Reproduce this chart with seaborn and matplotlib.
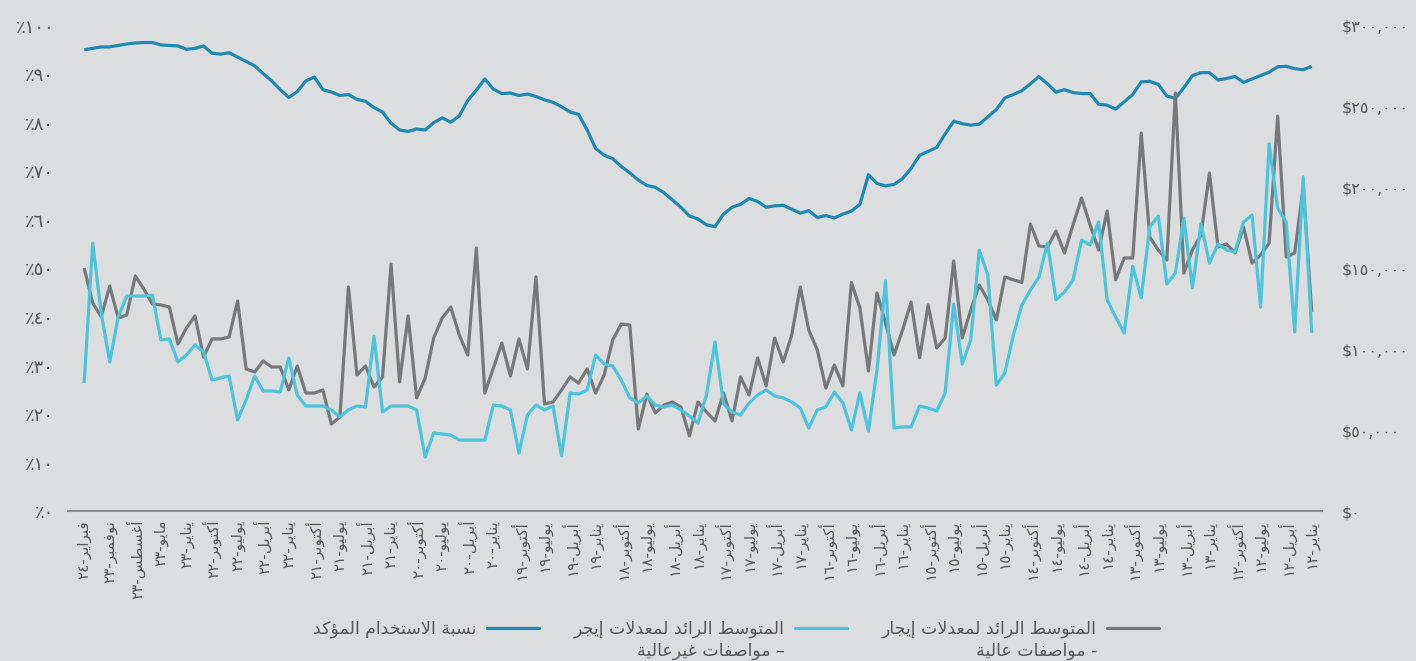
import matplotlib
matplotlib.use("Agg")
import matplotlib.pyplot as plt
import matplotlib.transforms as mtransforms
from matplotlib.lines import Line2D
from matplotlib.ticker import FuncFormatter, MultipleLocator
import seaborn as sns
import pandas as pd
import numpy as np

# Monthly series, newest (Feb-24) on the left to oldest (Jan-12) on the right
occupancy_pct = [
    95.0, 95.3, 95.6, 95.6, 95.9, 96.2, 96.4, 96.5, 96.5, 96.0,
    95.9, 95.8, 95.1, 95.3, 95.8, 94.3, 94.1, 94.4, 93.5, 92.6,
    91.7, 90.1, 88.6, 86.8, 85.2, 86.4, 88.6, 89.4, 86.8, 86.3,
    85.6, 85.8, 84.8, 84.4, 83.1, 82.2, 79.9, 78.5, 78.2, 78.7,
    78.5, 80.0, 81.0, 80.1, 81.4, 84.6, 86.7, 89.0, 86.9, 86.0,
    86.1, 85.6, 85.9, 85.4, 84.7, 84.2, 83.3, 82.2, 81.7, 78.5,
    74.7, 73.3, 72.6, 71.0, 69.7, 68.2, 67.1, 66.7, 65.6, 64.1,
    62.6, 60.8, 60.2, 59.0, 58.6, 61.2, 62.6, 63.2, 64.4, 63.8,
    62.6, 62.9, 63.0, 62.2, 61.4, 61.9, 60.5, 60.9, 60.4, 61.2,
    61.8, 63.2, 69.3, 67.5, 67.0, 67.3, 68.5, 70.6, 73.3, 74.1,
    74.9, 77.7, 80.3, 79.8, 79.5, 79.7, 81.2, 82.7, 85.1, 85.8,
    86.6, 88.0, 89.5, 88.0, 86.3, 86.8, 86.2, 86.0, 86.0, 83.8,
    83.6, 82.8, 84.3, 85.8, 88.4, 88.5, 87.9, 85.5, 85.0, 87.2,
    89.7, 90.3, 90.3, 88.8, 89.1, 89.5, 88.3, 89.0, 89.7, 90.4,
    91.5, 91.6, 91.1, 90.9, 91.6,
]

# asking rent, high spec, in $ thousands
rent_high_k = [
    150.3, 128.7, 120.1, 139.2, 119.4, 121.3, 145.4, 137.3, 128.1, 127.5,
    126.2, 103.4, 113.3, 120.7, 95.4, 106.5, 106.5, 107.7, 129.9, 88.0,
    86.1, 92.9, 89.2, 89.2, 75.0, 89.8, 73.1, 73.1, 75.0, 54.0,
    58.3, 138.6, 84.3, 89.8, 76.9, 83.0, 152.8, 79.9, 120.7, 70.1,
    82.4, 107.1, 119.4, 126.2, 108.9, 96.6, 162.7, 73.1, 88.6, 104.0,
    83.6, 106.5, 88.0, 144.8, 66.4, 67.6, 75.0, 83.0, 79.3, 88.0,
    73.1, 84.3, 105.9, 115.7, 115.1, 50.9, 72.5, 60.8, 65.7, 67.6,
    64.5, 46.6, 67.6, 61.4, 55.9, 73.1, 55.9, 83.0, 71.9, 94.8,
    77.5, 107.1, 92.3, 108.9, 138.6, 112.0, 99.7, 76.2, 90.4, 77.5,
    141.4, 125.6, 86.7, 134.9, 116.4, 96.6, 112.0, 129.3, 94.8, 127.5,
    100.9, 107.1, 154.6, 107.1, 124.4, 139.8, 130.6, 118.2, 144.8, 143.0,
    141.4, 177.5, 163.9, 163.3, 173.1, 159.6, 176.9, 193.5, 176.9, 161.4,
    185.5, 143.0, 156.5, 156.5, 233.6, 169.4, 161.4, 155.2, 258.3, 147.2,
    161.4, 170.7, 208.9, 163.3, 165.1, 159.6, 175.6, 153.4, 158.3, 165.7,
    244.1, 157.1, 159.6, 200.3, 123.1,
]

# asking rent, non high spec, in $ thousands
rent_std_k = [
    79.3, 165.7, 122.5, 92.3, 120.1, 133.0, 133.0, 133.0, 133.6, 105.9,
    106.5, 92.3, 96.6, 102.8, 98.5, 81.2, 82.4, 83.6, 56.5, 68.8,
    83.6, 74.4, 74.4, 73.8, 94.8, 71.9, 65.1, 65.1, 65.1, 62.7,
    58.3, 62.7, 65.1, 64.5, 108.3, 61.4, 65.1, 65.1, 65.1, 62.7,
    33.6, 48.5, 47.8, 47.2, 44.1, 44.1, 44.1, 44.1, 65.7, 65.1,
    62.7, 36.1, 59.6, 65.7, 62.7, 65.1, 34.3, 73.1, 72.5, 75.0,
    96.6, 91.0, 89.8, 81.2, 70.1, 67.0, 71.3, 65.7, 64.5, 65.7,
    62.7, 59.0, 54.6, 71.9, 104.6, 66.4, 61.4, 59.6, 67.0, 71.9,
    75.0, 71.3, 70.1, 67.6, 63.9, 51.5, 62.7, 64.5, 73.8, 67.0,
    50.3, 73.1, 49.7, 87.3, 142.3, 51.5, 52.2, 52.2, 65.1, 63.9,
    62.0, 73.1, 128.1, 91.0, 105.9, 161.4, 146.0, 78.0, 85.5, 109.0,
    127.5, 136.7, 144.8, 165.7, 130.6, 135.5, 142.9, 167.6, 164.5, 178.7,
    130.6, 120.1, 110.2, 151.5, 131.8, 175.6, 182.4, 140.4, 147.2, 181.2,
    138.0, 177.5, 153.4, 165.1, 161.4, 160.2, 178.7, 183.0, 126.2, 226.9,
    187.3, 178.7, 110.8, 206.5, 110.2,
]

recent_labels = [("فبراير", 24), ("نوفمبر", 23), ("أغسطس", 23), ("مايو", 23), ("يناير", 23)]
quarter_months = ["أكتوبر", "يوليو", "أبريل", "يناير"]
quarter_years = list(range(22, 11, -1))

legend_labels = [
    "نسبة الاستخدام المؤكد",
    "المتوسط الرائد لمعدلات إيجر\n– مواصفات غيرعالية",
    "المتوسط الرائد لمعدلات إيجار\n- مواصفات عالية",
]

BG = "#DCDDDF"
TEXT = "#55575A"
BLUE = "#1F88B2"
CYAN = "#4CC4DC"
GRAY = "#76787B"

# --- minimal Arabic shaping (matplotlib draws glyphs left to right, unjoined) ---
FORMS = {
    'ء': (0xFE80, 1), 'آ': (0xFE81, 2), 'أ': (0xFE83, 2), 'ؤ': (0xFE85, 2), 'إ': (0xFE87, 2),
    'ئ': (0xFE89, 4), 'ا': (0xFE8D, 2), 'ب': (0xFE8F, 4), 'ة': (0xFE93, 2), 'ت': (0xFE95, 4),
    'ث': (0xFE99, 4), 'ج': (0xFE9D, 4), 'ح': (0xFEA1, 4), 'خ': (0xFEA5, 4), 'د': (0xFEA9, 2),
    'ذ': (0xFEAB, 2), 'ر': (0xFEAD, 2), 'ز': (0xFEAF, 2), 'س': (0xFEB1, 4), 'ش': (0xFEB5, 4),
    'ص': (0xFEB9, 4), 'ض': (0xFEBD, 4), 'ط': (0xFEC1, 4), 'ظ': (0xFEC5, 4), 'ع': (0xFEC9, 4),
    'غ': (0xFECD, 4), 'ف': (0xFED1, 4), 'ق': (0xFED5, 4), 'ك': (0xFED9, 4), 'ل': (0xFEDD, 4),
    'م': (0xFEE1, 4), 'ن': (0xFEE5, 4), 'ه': (0xFEE9, 4), 'و': (0xFEED, 2), 'ى': (0xFEEF, 2),
    'ي': (0xFEF1, 4),
}
LAM_ALEF = {'آ': 0xFEF5, 'أ': 0xFEF7, 'إ': 0xFEF9, 'ا': 0xFEFB}
DIGITS = set("0123456789٠١٢٣٤٥٦٧٨٩")


def ar_digits(s):
    return str(s).translate(str.maketrans("0123456789", "٠١٢٣٤٥٦٧٨٩"))


def shape_line(line):
    tokens = []
    i = 0
    while i < len(line):
        ch = line[i]
        if ch == 'ل' and i + 1 < len(line) and line[i + 1] in LAM_ALEF:
            tokens.append((LAM_ALEF[line[i + 1]], 2))
            i += 2
            continue
        tokens.append(FORMS.get(ch, (ch, 0)))
        i += 1
    glyphs = []
    for k, (base, n) in enumerate(tokens):
        if n == 0:
            glyphs.append(base)
            continue
        prev = tokens[k - 1] if k > 0 else (None, 0)
        nxt = tokens[k + 1] if k + 1 < len(tokens) else (None, 0)
        jp = n >= 2 and prev[1] == 4
        jn = n == 4 and nxt[1] >= 2
        off = 0
        if jp and jn:
            off = 3
        elif jp:
            off = 1
        elif jn:
            off = 2
        glyphs.append(chr(base + off))
    # right-to-left order, numbers stay left-to-right
    out, run = [], []
    for g in glyphs[::-1]:
        if g in DIGITS:
            run.append(g)
        else:
            out.extend(run[::-1])
            run = []
            out.append(g)
    out.extend(run[::-1])
    return "".join(out)


def shape_ar(text):
    return "\n".join(shape_line(l) for l in text.split("\n"))


tick_labels = [f"{m}-{ar_digits(y)}" for m, y in recent_labels]
tick_labels += [f"{m}-{ar_digits(y)}" for y in quarter_years for m in quarter_months]

df = pd.DataFrame({
    "pos": np.arange(len(occupancy_pct)),
    "occupancy": occupancy_pct,
    "rent_high": np.array(rent_high_k) * 1000,
    "rent_std": np.array(rent_std_k) * 1000,
})

sns.set_theme(style="white")
plt.rcParams["font.family"] = ["DejaVu Sans"]

fig = plt.figure(figsize=(14.16, 6.61), dpi=100, facecolor=BG)
ax = fig.add_axes([0.048, 0.2262, 0.8856, 0.7352])
ax.set_facecolor(BG)
ax2 = ax.twinx()

sns.lineplot(data=df, x="pos", y="occupancy", ax=ax, color=BLUE, linewidth=2.3, sort=False)
sns.lineplot(data=df, x="pos", y="rent_high", ax=ax2, color=GRAY, linewidth=2.3, sort=False)
sns.lineplot(data=df, x="pos", y="rent_std", ax=ax2, color=CYAN, linewidth=2.3, sort=False)
for a in (ax, ax2):
    for ln in a.get_lines():
        ln.set_solid_joinstyle("round")
        ln.set_solid_capstyle("butt")

ax.set_xlim(-1.9, len(occupancy_pct) - 1 + 1.2)
ax.set_ylim(0, 100)
ax2.set_ylim(0, 300000)
ax.yaxis.set_major_locator(MultipleLocator(10))
ax2.yaxis.set_major_locator(MultipleLocator(50000))
ax.yaxis.set_major_formatter(FuncFormatter(lambda v, _: "٪" + ar_digits(int(round(v)))))
ax2.yaxis.set_major_formatter(FuncFormatter(lambda v, _: "$" + ar_digits(f"{int(round(v)):,}")))

ax.set_xticks(np.arange(0, len(occupancy_pct), 3))
ax.set_xticklabels([shape_ar(t) for t in tick_labels], rotation=90, ha="center", va="top")
# labels sit a few pixels left of their data point in the source
shift = mtransforms.ScaledTranslation(-4 / 100, 0, fig.dpi_scale_trans)
for lbl in ax.get_xticklabels()[1:]:
    lbl.set_transform(lbl.get_transform() + shift)

ax.set_xlabel("")
ax.set_ylabel("")
ax2.set_ylabel("")
ax.tick_params(axis="x", length=0, pad=6, labelsize=11, labelcolor=TEXT)
ax.tick_params(axis="y", length=0, pad=10, labelsize=13, labelcolor=TEXT)
ax2.tick_params(axis="y", length=0, pad=14, labelsize=11.5, labelcolor=TEXT)

for a in (ax, ax2):
    for side in ("top", "left", "right"):
        a.spines[side].set_visible(False)
ax2.spines["bottom"].set_visible(False)
ax.spines["bottom"].set_color("#8A8C8F")
ax.spines["bottom"].set_linewidth(1.5)

# legend laid out right-to-left: line sits to the right of its label
handles = [Line2D([], [], color=c, linewidth=2.3) for c in (BLUE, CYAN, GRAY)]
first_lines = [shape_ar(l.split("\n")[0]) for l in legend_labels]
leg = fig.legend(handles, first_lines, loc="center", bbox_to_anchor=(0.52, 0.048),
                 ncol=3, frameon=False, markerfirst=False, handlelength=3.0,
                 handletextpad=0.6, columnspacing=2.0, fontsize=12.5, labelcolor=TEXT)
fig.canvas.draw()
W, H = fig.bbox.width, fig.bbox.height
for txt, lab in zip(leg.get_texts(), legend_labels):
    parts = lab.split("\n")
    if len(parts) > 1:
        bb = txt.get_window_extent()
        fig.text(bb.x1 / W, (bb.y0 - 4) / H, shape_ar(parts[1]), ha="right", va="top",
                 fontsize=12.5, color=TEXT)

fig.savefig("out.png", dpi=100, facecolor=BG)
